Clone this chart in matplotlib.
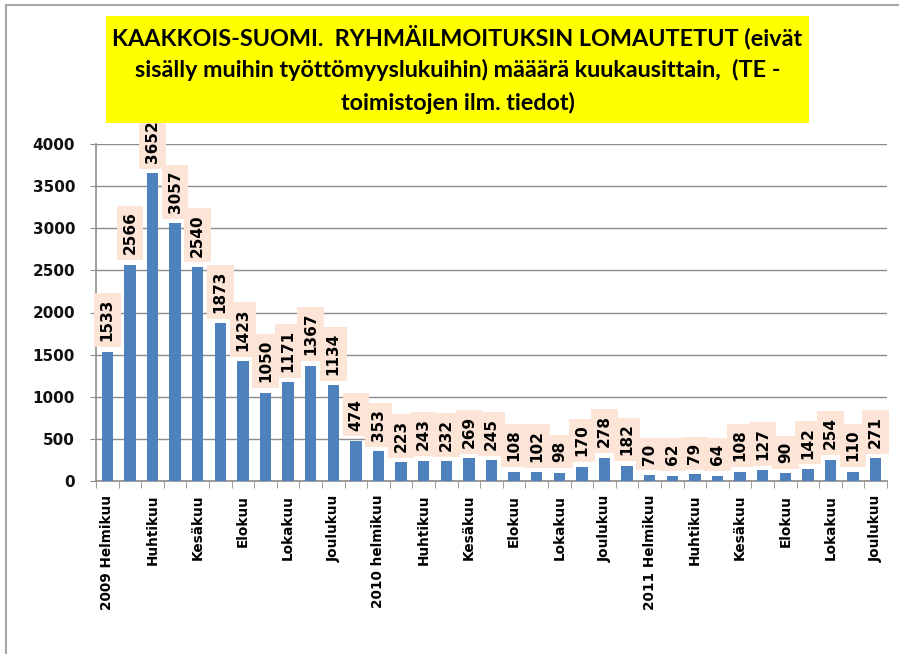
import matplotlib
matplotlib.use("Agg")
import matplotlib.pyplot as plt
from matplotlib.patches import Rectangle
import numpy as np

values = [1533, 2566, 3652, 3057, 2540, 1873, 1423, 1050, 1171, 1367, 1134,
          474, 353, 223, 243, 232, 269, 245, 108, 102, 98, 170, 278, 182,
          70, 62, 79, 64, 108, 127, 90, 142, 254, 110, 271]
tick_labels = ["2009 Helmikuu", "Huhtikuu", "Kesäkuu", "Elokuu", "Lokakuu", "Joulukuu",
               "2010 helmikuu", "Huhtikuu", "Kesäkuu", "Elokuu", "Lokakuu", "Joulukuu",
               "2011 Helmikuu", "Huhtikuu", "Kesäkuu", "Elokuu", "Lokakuu", "Joulukuu"]
title_lines = ["KAAKKOIS-SUOMI.  RYHMÄILMOITUKSIN LOMAUTETUT (eivät",
               "sisälly muihin työttömyyslukuihin) määärä kuukausittain,  (TE -",
               "toimistojen ilm. tiedot)"]
y_ticks = [0, 500, 1000, 1500, 2000, 2500, 3000, 3500, 4000]

W, H = 899, 654
fig = plt.figure(figsize=(W / 100, H / 100), dpi=100)

# outer frame
fig.patches.append(Rectangle((6 / W, -0.1), 1.2, 1 - 5 / H + 0.1, transform=fig.transFigure,
                             facecolor="none", edgecolor="#a6a6a6", linewidth=1.5))

# title box
bx0, bx1, by0, by1 = 106, 809, 16, 123
fig.patches.append(Rectangle((bx0 / W, 1 - by1 / H), (bx1 - bx0) / W, (by1 - by0) / H,
                             transform=fig.transFigure, facecolor="#ffff00", edgecolor="none"))
line_y = [37, 70, 103]
for t, ly in zip(title_lines, line_y):
    fig.text((bx0 + bx1) / 2 / W, 1 - ly / H, t, ha="center", va="center",
             fontsize=16.8, fontweight="bold", family=["Lato", "DejaVu Sans"], color="black")

ax = fig.add_axes([96 / W, 1 - 481 / H, (887 - 96) / W, (481 - 144) / H])
x = np.arange(len(values))
ax.bar(x, values, width=0.5, color="#4f81bd", zorder=3)
ax.set_xlim(-0.5, len(values) - 0.5)
ax.set_ylim(0, 4000)
ax.set_yticks(y_ticks)
ax.set_yticklabels([str(v) for v in y_ticks], fontsize=11, fontweight="bold", color="#111111")
ax.yaxis.grid(True, color="#8c8c8c", linewidth=1, zorder=0)
ax.tick_params(axis="y", length=4, color="#8c8c8c", pad=11)

ax.set_xticks(x[::2])
ax.set_xticklabels(tick_labels, rotation=90, fontsize=9.8, fontweight="bold", va="top")
ax.set_xticks(np.arange(len(values) + 1) - 0.5, minor=True)
ax.tick_params(axis="x", which="major", length=0, pad=10)
ax.tick_params(axis="x", which="minor", length=5, color="#8c8c8c")

for s in ["top", "right"]:
    ax.spines[s].set_visible(False)
for s in ["left", "bottom"]:
    ax.spines[s].set_color("#8c8c8c")
    ax.spines[s].set_linewidth(1.2)

for xi, v in zip(x, values):
    ax.annotate(str(v), (xi, v), xytext=(0, 7.5), textcoords="offset points",
                rotation=90, ha="center", va="bottom", fontsize=11, fontweight="bold",
                zorder=4, annotation_clip=False,
                bbox=dict(boxstyle="square,pad=0.38", facecolor="#fce4d6", edgecolor="none"))

fig.savefig("out.png", dpi=100)
